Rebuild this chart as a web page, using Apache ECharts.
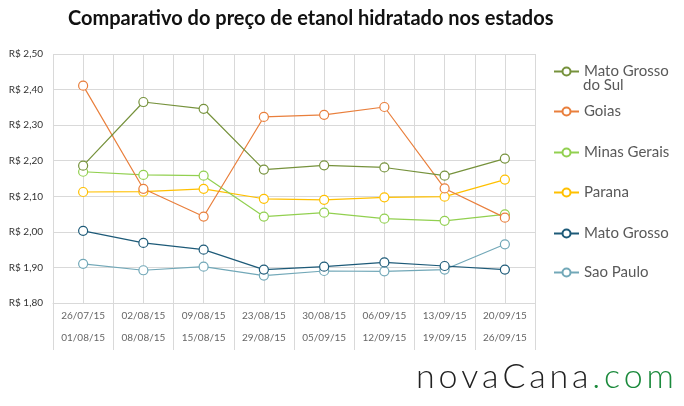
<!DOCTYPE html>
<html lang="pt">
<head>
    <meta charset="utf-8">
    <script src="https://cdn.jsdelivr.net/npm/echarts@6/dist/echarts.min.js"></script>
    <style>
        html, body { margin: 0; padding: 0; background: #fff; }
    </style>
</head>
<body>
<div id="main" style="width: 684px;height:406px;"></div>
<script type="text/javascript">
    // semanas (duas linhas por rótulo)
    var semanas = ["26/07/15\n01/08/15", "02/08/15\n08/08/15", "09/08/15\n15/08/15", "23/08/15\n29/08/15",
                   "30/08/15\n05/09/15", "06/09/15\n12/09/15", "13/09/15\n19/09/15", "20/09/15\n26/09/15"];

    var matoGrossoDoSul = [2.186, 2.365, 2.346, 2.175, 2.187, 2.181, 2.158, 2.206];
    var goias           = [2.411, 2.121, 2.043, 2.323, 2.329, 2.351, 2.122, 2.040];
    var minasGerais     = [2.169, 2.160, 2.158, 2.043, 2.054, 2.037, 2.031, 2.049];
    var parana          = [2.112, 2.113, 2.121, 2.093, 2.090, 2.097, 2.099, 2.147];
    var matoGrosso      = [2.003, 1.969, 1.950, 1.894, 1.902, 1.914, 1.904, 1.894];
    var saoPaulo        = [1.910, 1.892, 1.902, 1.877, 1.890, 1.889, 1.894, 1.965];

    var nomes = ['Mato Grosso do Sul', 'Goias', 'Minas Gerais', 'Parana', 'Mato Grosso', 'Sao Paulo'];
    var cores = ['#76923c', '#e97f3c', '#92d050', '#ffc000', '#1d5a78', '#72a8b8'];
    var valores = [matoGrossoDoSul, goias, minasGerais, parana, matoGrosso, saoPaulo];
    var legendaY = [70, 110, 151, 191, 232, 271];

    var fonte = 'Lato';
    var grade = '#d9d9d9';

    var myChart = echarts.init(document.getElementById('main'));

    var legendas = nomes.map(function (nome, i) {
        return {
            data: [nome],
            orient: 'vertical',
            left: 548,
            top: legendaY[i] - 11,
            itemWidth: 25,
            itemHeight: 10,
            selectedMode: false,
            formatter: function (n) { return n === 'Mato Grosso do Sul' ? 'Mato Grosso' : n; },
            textStyle: { fontFamily: fonte, fontSize: 15, color: '#595959' }
        };
    });

    var series = nomes.map(function (nome, i) {
        return {
            name: nome,
            type: 'line',
            data: valores[i],
            symbol: 'circle',
            symbolSize: 9,
            itemStyle: { color: '#fff', borderColor: cores[i], borderWidth: 1.2 },
            lineStyle: { color: cores[i], width: 1.2 },
            z: 10 - i
        };
    });

    // logo com espaçamento entre letras
    var logo = 'novaCana'.split('').map(function (c) { return '{a|' + c + '}'; }).join('') +
               '.com'.split('').map(function (c) { return '{b|' + c + '}'; }).join('');

    var option = {
        animation: false,
        title: {
            text: 'Comparativo do preço de etanol hidratado nos estados',
            left: 63,
            top: 4,
            textStyle: { fontFamily: fonte, fontSize: 20, fontWeight: 'bold', color: '#111' }
        },
        legend: legendas,
        grid: { left: 53, right: 149, top: 54, bottom: 103 },
        xAxis: [{
            type: 'category',
            data: semanas,
            boundaryGap: true,
            axisLine: { lineStyle: { color: grade } },
            axisTick: { show: true, length: 47, lineStyle: { color: grade } },
            splitLine: { show: false },
            axisLabel: {
                interval: 0,
                fontFamily: fonte, fontSize: 10, color: '#666', lineHeight: 22, margin: 2
            }
        }, {
            type: 'value',
            min: 0, max: 16, interval: 1,
            position: 'top',
            axisLine: { show: false },
            axisTick: { show: false },
            axisLabel: { show: false },
            splitLine: { show: true, lineStyle: { color: grade, width: 1 } }
        }],
        yAxis: {
            type: 'value',
            min: 1.8, max: 2.5, interval: 0.1,
            axisLine: { show: false },
            axisTick: { show: false },
            splitLine: { lineStyle: { color: grade } },
            axisLabel: {
                fontFamily: fonte, fontSize: 10, color: '#333', margin: 10,
                formatter: function (v) { return 'R$ ' + v.toFixed(2).replace('.', ','); }
            }
        },
        graphic: [{
            type: 'text',
            left: 583, top: 78,
            style: { text: 'do Sul', font: '15px Lato', fill: '#595959' }
        }, {
            type: 'text',
            left: 416, top: 360,
            style: {
                text: logo,
                rich: {
                    a: { fontFamily: fonte, fontSize: 34, fontWeight: 300, fill: '#222', padding: [0, 1.9] },
                    b: { fontFamily: fonte, fontSize: 34, fontWeight: 300, fill: '#1b8a3c', padding: [0, 1.9] }
                }
            }
        }],
        series: series
    };

    myChart.setOption(option);
</script>
</body>
</html>
